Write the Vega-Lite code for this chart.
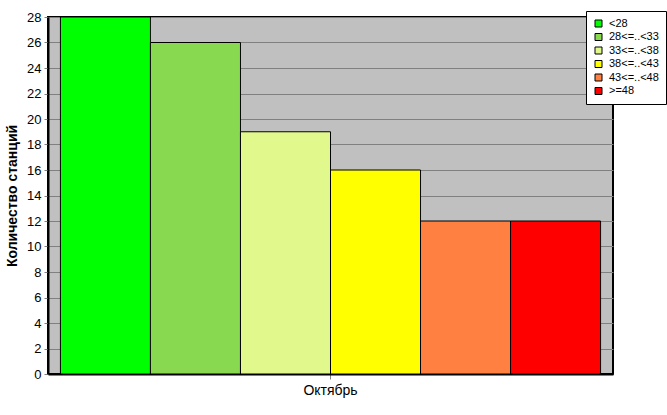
{
  "$schema": "https://vega.github.io/schema/vega-lite/v6.json",
  "autosize": {"type": "none"},
  "padding": {"left": 48, "top": 17, "right": 54, "bottom": 41},
  "width": 565,
  "height": 357,
  "background": "white",
  "config": {
    "font": "Liberation Sans",
    "view": {"fill": "#C0C0C0", "stroke": "black", "strokeWidth": 2}
  },
  "data": {
    "values": [
      {"month": "Октябрь", "cat": "<28", "n": 28},
      {"month": "Октябрь", "cat": "28<=..<33", "n": 26},
      {"month": "Октябрь", "cat": "33<=..<38", "n": 19},
      {"month": "Октябрь", "cat": "38<=..<43", "n": 16},
      {"month": "Октябрь", "cat": "43<=..<48", "n": 12},
      {"month": "Октябрь", "cat": ">=48", "n": 12}
    ]
  },
  "mark": {"type": "bar", "stroke": "black", "strokeWidth": 1},
  "encoding": {
    "x": {
      "field": "month", "type": "nominal",
      "scale": {"paddingInner": 0, "paddingOuter": 0.023},
      "axis": {
        "title": null, "labelAngle": 0, "labelFontSize": 14, "labelColor": "black",
        "domainColor": "black", "domainWidth": 2, "tickColor": "#808080",
        "tickSize": 5, "labelPadding": 4
      }
    },
    "xOffset": {
      "field": "cat", "type": "nominal",
      "sort": ["<28", "28<=..<33", "33<=..<38", "38<=..<43", "43<=..<48", ">=48"],
      "scale": {"paddingInner": 0, "paddingOuter": 0}
    },
    "y": {
      "field": "n", "type": "quantitative",
      "scale": {"domain": [0, 28], "nice": false},
      "axis": {
        "title": "Количество станций", "titleFontSize": 14, "titleFontWeight": "bold",
        "titleColor": "black", "titlePadding": 7,
        "values": [0, 2, 4, 6, 8, 10, 12, 14, 16, 18, 20, 22, 24, 26, 28],
        "labelFontSize": 13, "labelColor": "black",
        "grid": true, "gridColor": "#808080", "gridWidth": 1,
        "domainColor": "black", "domainWidth": 2,
        "tickColor": "#808080", "tickSize": 4, "labelPadding": 3
      }
    },
    "color": {
      "field": "cat", "type": "nominal",
      "sort": ["<28", "28<=..<33", "33<=..<38", "38<=..<43", "43<=..<48", ">=48"],
      "scale": {
        "domain": ["<28", "28<=..<33", "33<=..<38", "38<=..<43", "43<=..<48", ">=48"],
        "range": ["#00FF00", "#88D850", "#E0F88C", "#FFFF00", "#FF8040", "#FF0000"]
      },
      "legend": {
        "title": null, "orient": "none", "legendX": 538, "legendY": -6,
        "fillColor": "white", "strokeColor": "black", "padding": 7,
        "symbolType": "square", "symbolSize": 49, "symbolStrokeColor": "black",
        "symbolStrokeWidth": 1, "labelFontSize": 11, "labelColor": "black",
        "rowPadding": 1.5, "labelOffset": 5
      }
    }
  }
}
